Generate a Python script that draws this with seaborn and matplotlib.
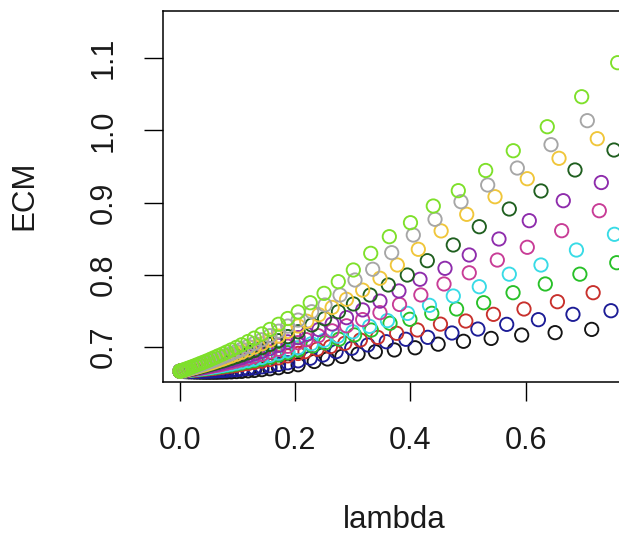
import matplotlib
matplotlib.use("Agg")
import matplotlib.pyplot as plt
import pandas as pd
import seaborn as sns

# ---- data ----
BLOB_X = [0.205, 0.187, 0.171, 0.156, 0.142, 0.129, 0.118, 0.107, 0.098, 0.089,
          0.081, 0.074, 0.067, 0.061, 0.055, 0.049, 0.043, 0.037, 0.032, 0.027,
          0.022, 0.017, 0.013, 0.009, 0.005, 0.002, 0.0]

x_black = [0.7145, 0.651, 0.593, 0.540, 0.492, 0.448, 0.408, 0.372, 0.339, 0.309, 0.281, 0.256, 0.233] + BLOB_X
y_black = [0.724, 0.7195, 0.7162, 0.7115, 0.7075, 0.7035, 0.6985, 0.6955, 0.693, 0.690, 0.6865, 0.683, 0.6795,
           0.675, 0.6727, 0.6708, 0.6694, 0.6682, 0.6671, 0.6665, 0.6658, 0.6655, 0.6651, 0.6649, 0.6648, 0.6647,
           0.6646, 0.6646, 0.6646, 0.6646, 0.6647, 0.6649, 0.6649, 0.6651, 0.6652, 0.6654, 0.6655, 0.6657, 0.6659, 0.666]

x_navy = [0.748, 0.682, 0.622, 0.567, 0.517, 0.472, 0.430, 0.392, 0.358, 0.326, 0.298, 0.271, 0.248, 0.226] + BLOB_X
y_navy = [0.7499, 0.7449, 0.7375, 0.731, 0.7245, 0.719, 0.713, 0.7103, 0.7069, 0.7024, 0.6978, 0.6931, 0.6885, 0.684,
          0.6804, 0.6777, 0.6754, 0.6736, 0.6721, 0.6707, 0.6697, 0.6689, 0.6682, 0.6677, 0.6673, 0.6669, 0.6667,
          0.6664, 0.6662, 0.6661, 0.6659, 0.6659, 0.6658, 0.6658, 0.6658, 0.6658, 0.6658, 0.6658, 0.6659, 0.666, 0.666]

x_red = [0.717, 0.655, 0.597, 0.544, 0.496, 0.452, 0.412, 0.376, 0.343, 0.313, 0.286, 0.261, 0.238, 0.217] + BLOB_X
y_red = [0.7749, 0.7624, 0.7523, 0.7449, 0.7356, 0.7313, 0.7232, 0.7186, 0.713, 0.7093, 0.7047, 0.700, 0.6965, 0.6931,
         0.6906, 0.6873, 0.6846, 0.6821, 0.680, 0.6782, 0.6766, 0.6753, 0.6742, 0.6732, 0.6724, 0.6716, 0.6709,
         0.6704, 0.6698, 0.6693, 0.6688, 0.6684, 0.6679, 0.6676, 0.6673, 0.667, 0.6667, 0.6665, 0.6663, 0.6661, 0.666]

x_green = [0.758, 0.694, 0.634, 0.578, 0.527, 0.480, 0.437, 0.399, 0.3645, 0.332, 0.303, 0.276, 0.252, 0.230] + BLOB_X
y_green = [0.8165, 0.8006, 0.787, 0.7749, 0.761, 0.7523, 0.7463, 0.738, 0.7325, 0.7231, 0.7163, 0.7104, 0.7053, 0.701,
           0.6955, 0.6917, 0.6884, 0.6855, 0.683, 0.6808, 0.6791, 0.6774, 0.6761, 0.6748, 0.6738, 0.6729, 0.6721,
           0.6714, 0.6708, 0.6701, 0.6695, 0.6689, 0.6685, 0.6681, 0.6676, 0.6672, 0.6669, 0.6666, 0.6663, 0.6661, 0.666]

x_cyan = [0.754, 0.688, 0.6265, 0.5715, 0.5194, 0.4743, 0.433, 0.395, 0.360, 0.329, 0.300, 0.274, 0.250, 0.228] + BLOB_X
y_cyan = [0.8559, 0.8341, 0.8133, 0.8006, 0.7832, 0.7703, 0.7574, 0.7462, 0.7362, 0.7282, 0.7206, 0.7145, 0.7088, 0.7041,
          0.6986, 0.6945, 0.691, 0.6879, 0.6852, 0.6827, 0.6808, 0.679, 0.6775, 0.6761, 0.675, 0.674, 0.6731,
          0.6723, 0.6716, 0.6708, 0.6701, 0.6695, 0.669, 0.6685, 0.668, 0.6675, 0.6671, 0.6667, 0.6664, 0.6662, 0.666]

x_magenta = [0.7277, 0.6624, 0.6027, 0.5507, 0.502, 0.4582, 0.418, 0.381, 0.347, 0.317, 0.289, 0.264, 0.240, 0.219] + BLOB_X
y_magenta = [0.8886, 0.8609, 0.8379, 0.8202, 0.8025, 0.787, 0.7718, 0.7586, 0.7472, 0.7376, 0.729, 0.722, 0.7152, 0.7098,
             0.7056, 0.7006, 0.6964, 0.6927, 0.6894, 0.6865, 0.6841, 0.6819, 0.6802, 0.6785, 0.6771, 0.6759, 0.6747,
             0.6738, 0.6729, 0.672, 0.6711, 0.6703, 0.6697, 0.669, 0.6684, 0.6678, 0.6674, 0.6669, 0.6665, 0.6662, 0.666]

x_purple = [0.7312, 0.6652, 0.6062, 0.5536, 0.502, 0.4599, 0.4165, 0.380, 0.347, 0.317, 0.289, 0.264, 0.241, 0.220] + BLOB_X
y_purple = [0.9277, 0.9025, 0.8748, 0.8494, 0.8272, 0.8087, 0.7935, 0.7773, 0.7632, 0.751, 0.7403, 0.7315, 0.7238, 0.7173,
            0.7126, 0.7067, 0.7018, 0.6974, 0.6936, 0.6902, 0.6875, 0.6848, 0.6828, 0.6808, 0.6792, 0.6778, 0.6764,
            0.6752, 0.6742, 0.6732, 0.6721, 0.6711, 0.6703, 0.6696, 0.6689, 0.6682, 0.6677, 0.6671, 0.6666, 0.6662, 0.666]

x_dkgreen = [0.7532, 0.6855, 0.6265, 0.5715, 0.5194, 0.4743, 0.4292, 0.3945, 0.3615, 0.330, 0.301, 0.275, 0.251, 0.229] + BLOB_X
y_dkgreen = [0.9728, 0.9451, 0.916, 0.891, 0.8664, 0.8411, 0.8193, 0.7994, 0.7856, 0.7716, 0.7593, 0.7485, 0.7388, 0.7301,
             0.7207, 0.714, 0.7083, 0.7032, 0.6988, 0.6948, 0.6916, 0.6886, 0.6862, 0.6839, 0.6819, 0.6802, 0.6787,
             0.6773, 0.676, 0.6748, 0.6735, 0.6724, 0.6714, 0.6705, 0.6696, 0.6688, 0.6681, 0.6674, 0.6668, 0.6663, 0.666]

x_gold = [0.7242, 0.6578, 0.6027, 0.5467, 0.4976, 0.4532, 0.4136, 0.3772, 0.3471, 0.317, 0.289, 0.264, 0.241, 0.220] + BLOB_X
y_gold = [0.9885, 0.9613, 0.933, 0.908, 0.8836, 0.8606, 0.8351, 0.8133, 0.7949, 0.7785, 0.7657, 0.7544, 0.7443, 0.7353,
          0.7287, 0.7212, 0.7147, 0.709, 0.704, 0.6994, 0.6957, 0.6923, 0.6895, 0.6869, 0.6847, 0.6827, 0.6809,
          0.6793, 0.6777, 0.6763, 0.6748, 0.6736, 0.6724, 0.6713, 0.6703, 0.6693, 0.6684, 0.6676, 0.6669, 0.6664, 0.666]

x_grey = [0.7069, 0.6439, 0.5854, 0.534, 0.4877, 0.4426, 0.4049, 0.3674, 0.3344, 0.3037, 0.2777, 0.2516, 0.2285] + BLOB_X
y_grey = [1.0135, 0.9802, 0.9478, 0.9243, 0.9011, 0.8767, 0.8549, 0.8304, 0.8074, 0.7925, 0.7717, 0.7578, 0.7485,
          0.7369, 0.7286, 0.7215, 0.7152, 0.7096, 0.7046, 0.7005, 0.6965, 0.6935, 0.6905, 0.6879, 0.6857, 0.6835,
          0.6817, 0.6799, 0.6783, 0.6766, 0.675, 0.6736, 0.6723, 0.6711, 0.6699, 0.669, 0.668, 0.6671, 0.6664, 0.666]

x_lime = [0.7596, 0.6971, 0.6374, 0.5784, 0.5305, 0.483, 0.4396, 0.400, 0.3633, 0.331, 0.3008, 0.2747, 0.250, 0.226] + BLOB_X
y_lime = [1.0939, 1.0467, 1.0051, 0.9718, 0.9444, 0.9164, 0.8951, 0.872, 0.8526, 0.8295, 0.8064, 0.7902, 0.774, 0.761,
          0.7482, 0.7391, 0.7311, 0.724, 0.7177, 0.7119, 0.7072, 0.7027, 0.6991, 0.6956, 0.6926, 0.6899, 0.6875,
          0.6853, 0.6832, 0.6811, 0.6791, 0.6772, 0.6756, 0.674, 0.6725, 0.671, 0.6697, 0.6686, 0.6674, 0.6666, 0.666]

series_names = ["black", "navy", "red", "green", "cyan", "magenta", "purple", "dkgreen", "gold", "grey", "lime"]
series_x = [x_black, x_navy, x_red, x_green, x_cyan, x_magenta, x_purple, x_dkgreen, x_gold, x_grey, x_lime]
series_y = [y_black, y_navy, y_red, y_green, y_cyan, y_magenta, y_purple, y_dkgreen, y_gold, y_grey, y_lime]
colors = ["#141414", "#1c1c96", "#c8302c", "#28c028", "#38dbe6", "#c83c96", "#8e2cac",
          "#1f5f1f", "#f0c63a", "#a6a6a6", "#7ee02a"]

x_ticks = [0.0, 0.2, 0.4, 0.6]
x_ticklabels = ["0.0", "0.2", "0.4", "0.6"]
y_ticks = [0.7, 0.8, 0.9, 1.0, 1.1]
y_ticklabels = ["0.7", "0.8", "0.9", "1.0", "1.1"]

frames = []
for name, xs, ys in zip(series_names, series_x, series_y):
    frames.append(pd.DataFrame({"lambda": xs, "ECM": ys, "serie": name}))
df = pd.concat(frames, ignore_index=True)

# ---- style ----
sns.set_style("ticks")
plt.rcParams["font.family"] = ["Liberation Sans", "DejaVu Sans"]

W, H = 619, 535
fig = plt.figure(figsize=(W / 100, H / 100), dpi=100)
ax_left, ax_right = 162.7, 625.0
ax_top, ax_bottom = 10.7, 381.7
ax = fig.add_axes([ax_left / W, (H - ax_bottom) / H,
                   (ax_right - ax_left) / W, (ax_bottom - ax_top) / H])

for name, col in zip(series_names, colors):
    sub = df[df["serie"] == name]
    sns.scatterplot(data=sub, x="lambda", y="ECM", ax=ax, color=col,
                    facecolor="none", edgecolor=col, s=92, linewidth=1.35,
                    marker="o", legend=False, zorder=3)

x0 = (ax_left - 180.0) / 576.2
x1 = (ax_right - 180.0) / 576.2
ax.set_xlim(x0, x1)
ax.set_ylim(0.65146, 1.16602)

ax.set_xticks(x_ticks)
ax.set_xticklabels(x_ticklabels)
ax.set_yticks(y_ticks)
ax.set_yticklabels(y_ticklabels, rotation=90, va="center")

for sp in ax.spines.values():
    sp.set_visible(True)
    sp.set_color("black")
    sp.set_linewidth(1.1)

ax.tick_params(axis="both", direction="out", length=14, width=1.0, color="black",
               labelsize=22, labelcolor="#1a1a1a")
ax.tick_params(axis="x", pad=18)
ax.tick_params(axis="y", pad=18)

ax.set_xlabel("lambda", fontsize=22.5, color="#1a1a1a")
ax.set_ylabel("ECM", fontsize=22.5, color="#1a1a1a")
axw = ax_right - ax_left
axh = ax_bottom - ax_top
ax.xaxis.set_label_coords((394 - ax_left) / axw, (ax_bottom - 520) / axh)
ax.xaxis.label.set_va("center")
ax.yaxis.set_label_coords((24.5 - ax_left) / axw, (ax_bottom - 195) / axh)
ax.yaxis.label.set_va("center")

ax.grid(False)
fig.savefig("out.png", dpi=100, facecolor="white")
